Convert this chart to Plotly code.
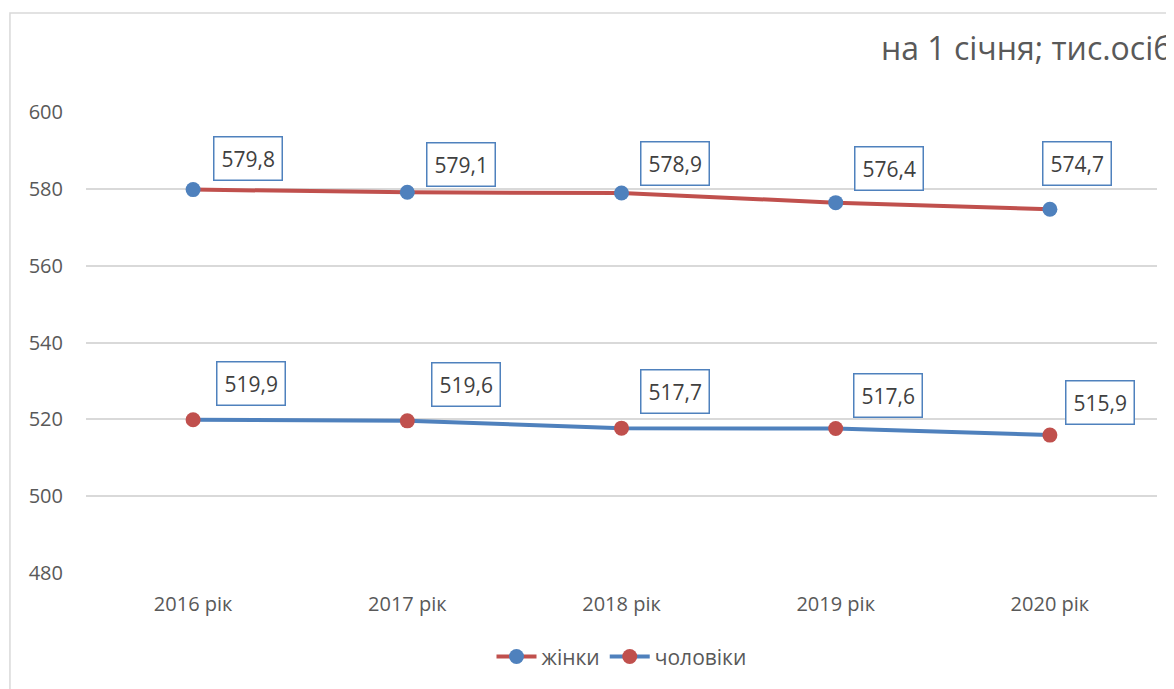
import plotly.graph_objects as go

years = ["2016 рік", "2017 рік", "2018 рік", "2019 рік", "2020 рік"]
women = [579.8, 579.1, 578.9, 576.4, 574.7]
men = [519.9, 519.6, 517.7, 517.6, 515.9]
women_off = [(55, -31), (54, -28), (53, -30), (53, -34), (27, -46)]
men_off = [(58, -36), (59, -36), (53, -37), (52, -33), (50, -33)]

RED = "#c0504d"
BLUE = "#4f81bd"
GREY = "#595959"
FONT = "Open Sans"

fig = go.Figure()
fig.add_trace(go.Scatter(x=years, y=women, name="жінки", mode="lines+markers",
                         line=dict(color=RED, width=4),
                         marker=dict(color=BLUE, size=15)))
fig.add_trace(go.Scatter(x=years, y=men, name="чоловіки", mode="lines+markers",
                         line=dict(color=BLUE, width=4),
                         marker=dict(color=RED, size=15)))

ann = []
for series, offs in ((women, women_off), (men, men_off)):
    for x, v, (dx, dy) in zip(years, series, offs):
        ann.append(dict(x=x, y=v, xref="x", yref="y", text=f"{v:.1f}".replace(".", ","),
                        showarrow=True, arrowcolor="rgba(0,0,0,0)", arrowhead=0,
                        ax=dx, ay=dy, font=dict(family=FONT, size=21, color="#404040"),
                        bgcolor="white", bordercolor=BLUE, borderwidth=1.5, borderpad=7))

ann.append(dict(text="на 1 січня; тис.осіб", xref="paper", yref="paper",
                x=0.740, y=1.139, xanchor="left", yanchor="middle", showarrow=False,
                font=dict(family=FONT, size=32, color=GREY)))

fig.update_layout(
    width=1174, height=689,
    margin=dict(l=78, r=25, t=104, b=124),
    paper_bgcolor="white", plot_bgcolor="white",
    font=dict(family=FONT, color=GREY),
    annotations=ann,
    showlegend=True,
    legend=dict(orientation="h", x=0.5, xanchor="center", y=-0.182, yanchor="middle",
                font=dict(family=FONT, size=21, color=GREY), itemwidth=40),
    xaxis=dict(showgrid=False, showline=False, ticks="", tickfont=dict(size=20, color=GREY),
               range=[-0.5, 4.5], ticklabelstandoff=17),
    yaxis=dict(range=[480, 600], dtick=20, showgrid=True, gridcolor="#d9d9d9", gridwidth=1.5,
               zeroline=False, showline=False, ticks="", tickfont=dict(size=20, color=GREY),
               ticklabelstandoff=22),
    shapes=[dict(type="rect", xref="paper", yref="paper", x0=-0.071, y0=-0.6, x1=1.2, y1=1.2148,
                 line=dict(color="#d9d9d9", width=1.5), layer="below")],
)

fig.write_html("out.html")
